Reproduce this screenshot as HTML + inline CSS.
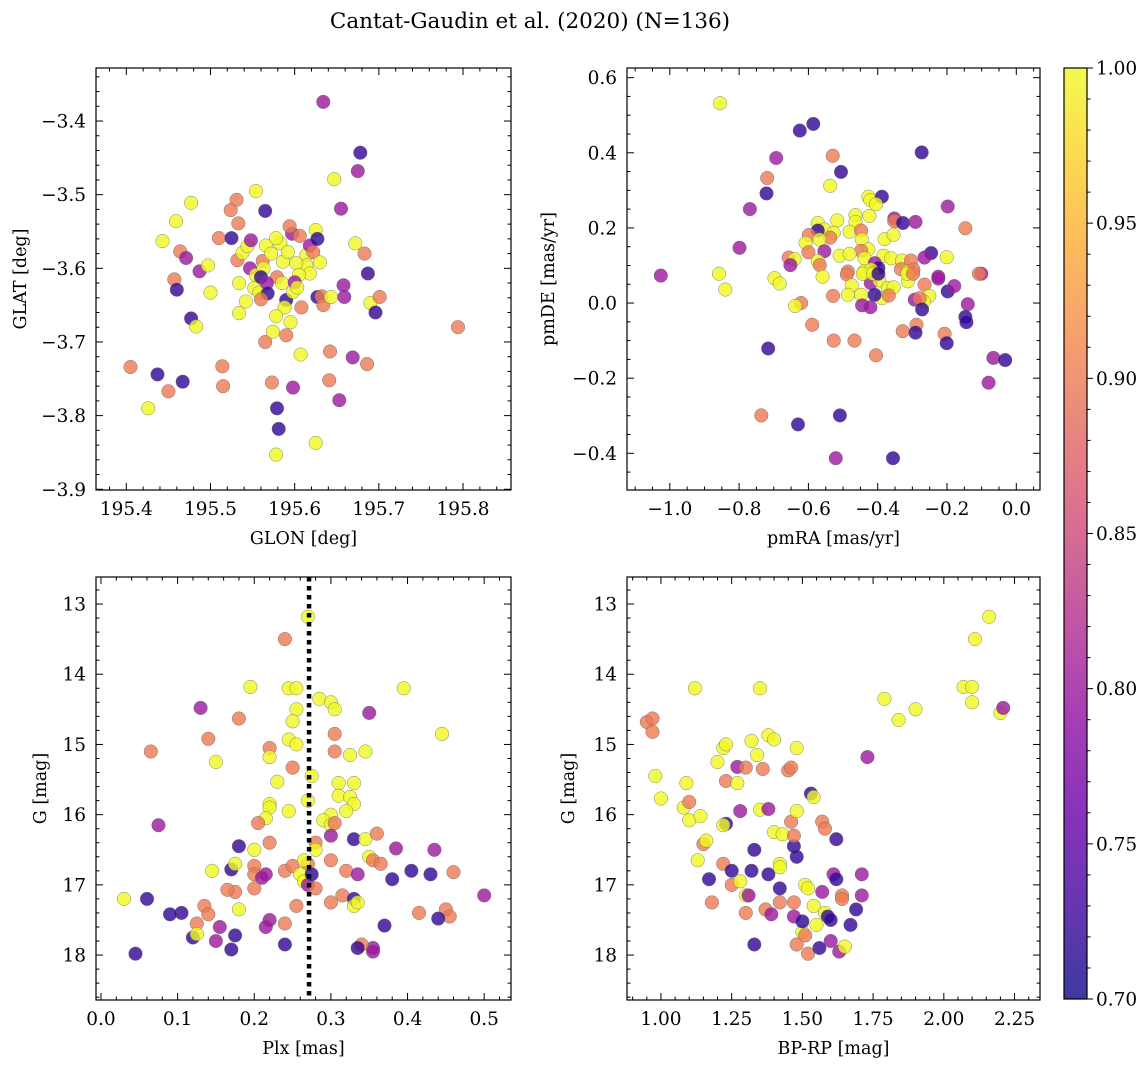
<!DOCTYPE html>
<html><head><meta charset="utf-8">
<style>
body{margin:0;background:#fff;}
svg{display:block;font-family:"DejaVu Serif","Liberation Serif",serif;}
</style></head>
<body>
<svg id="fig" width="1148" height="1067" viewBox="0 0 1148 1067" xmlns="http://www.w3.org/2000/svg">
<rect width="1148" height="1067" fill="#fff"/>
<text x="530" y="28" font-size="21.5" text-anchor="middle">Cantat-Gaudin et al. (2020) (N=136)</text>
</svg>
<script>
const probLevels = {Y:1.0, O:0.9, M:0.8, D:0.72};
const p1Glon = [195.634,195.678,195.675,195.647,195.554,195.477,195.531,195.459,195.565,195.655,195.524,195.443,195.51,195.533,195.464,195.471,195.457,195.46,195.487,195.477,195.497,195.5,195.483,195.467,195.437,195.405,195.45,195.426,195.514,195.515,195.525,195.532,195.538,195.544,195.562,195.565,195.573,195.579,195.581,195.578,195.598,195.59,195.607,195.625,195.627,195.632,195.634,195.643,195.642,195.653,195.641,195.659,195.658,195.672,195.669,195.683,195.687,195.69,195.696,195.701,195.686,195.794,195.547,195.554,195.552,195.558,195.534,195.542,195.534,195.563,195.56,195.579,195.567,195.568,195.585,195.586,195.583,195.592,195.597,195.594,195.606,195.614,195.614,195.618,195.618,195.625,195.627,195.602,195.605,195.59,195.598,195.588,195.578,195.574,195.56,195.566,195.572,195.578,195.548,195.6,195.622,195.63,195.595,195.608,195.603];
const p1Glat = [-3.374,-3.443,-3.468,-3.479,-3.495,-3.511,-3.507,-3.536,-3.522,-3.519,-3.521,-3.563,-3.559,-3.539,-3.577,-3.586,-3.615,-3.629,-3.604,-3.668,-3.596,-3.633,-3.679,-3.754,-3.744,-3.734,-3.767,-3.79,-3.733,-3.76,-3.559,-3.589,-3.579,-3.57,-3.59,-3.7,-3.755,-3.79,-3.818,-3.853,-3.762,-3.691,-3.717,-3.837,-3.639,-3.638,-3.65,-3.639,-3.713,-3.779,-3.752,-3.639,-3.623,-3.566,-3.721,-3.58,-3.607,-3.647,-3.66,-3.639,-3.73,-3.68,-3.6,-3.609,-3.627,-3.633,-3.661,-3.645,-3.62,-3.6,-3.612,-3.612,-3.62,-3.634,-3.62,-3.591,-3.566,-3.578,-3.553,-3.543,-3.556,-3.582,-3.596,-3.607,-3.569,-3.548,-3.56,-3.593,-3.609,-3.643,-3.632,-3.653,-3.665,-3.686,-3.642,-3.569,-3.58,-3.559,-3.562,-3.619,-3.578,-3.592,-3.673,-3.653,-3.626];
const p1Prob = "MDMYYYOYDMOYOOOMODMDYYYDDOOYOODOYYOOODDYMOYYDOOYOMOMMYMODYDOOOMYYYYYYYDOMDYYYYMOOYYYMYDYYDYYYYOYYYMMOYYOYY";
const p2PmRA = [-0.855,-0.625,-0.586,-0.530,-0.273,-0.693,-0.719,-0.506,-0.721,-0.537,-0.769,-0.198,-0.147,-0.799,-1.026,-0.858,-0.427,-0.421,-0.388,-0.405,-0.424,-0.464,-0.464,-0.352,-0.352,-0.327,-0.291,-0.517,-0.573,-0.554,-0.527,-0.573,-0.481,-0.448,-0.446,-0.599,-0.537,-0.568,-0.608,-0.380,-0.354,-0.600,-0.554,-0.427,-0.448,-0.510,-0.481,-0.438,-0.384,-0.361,-0.246,-0.265,-0.201,-0.657,-0.640,-0.652,-0.573,-0.567,-0.408,-0.398,-0.330,-0.304,-0.333,-0.313,-0.297,-0.486,-0.440,-0.419,-0.225,-0.101,-0.108,-0.698,-0.559,-0.840,-0.683,-0.489,-0.420,-0.395,-0.371,-0.354,-0.387,-0.409,-0.368,-0.475,-0.486,-0.448,-0.529,-0.445,-0.421,-0.313,-0.265,-0.251,-0.267,-0.293,-0.279,-0.272,-0.225,-0.198,-0.179,-0.140,-0.147,-0.144,-0.621,-0.638,-0.589,-0.527,-0.467,-0.405,-0.328,-0.288,-0.291,-0.207,-0.201,-0.066,-0.032,-0.080,-0.716,-0.736,-0.630,-0.509,-0.521,-0.356,-0.443,-0.414,-0.398,-0.315,-0.298];
const p2PmDE = [0.532,0.459,0.477,0.392,0.401,0.386,0.333,0.349,0.292,0.312,0.250,0.257,0.199,0.147,0.073,0.078,0.283,0.274,0.283,0.263,0.232,0.234,0.216,0.225,0.218,0.213,0.216,0.220,0.213,0.196,0.187,0.193,0.190,0.193,0.169,0.181,0.174,0.169,0.160,0.170,0.182,0.135,0.138,0.143,0.139,0.126,0.131,0.119,0.126,0.119,0.133,0.121,0.122,0.121,0.117,0.101,0.112,0.101,0.106,0.093,0.113,0.113,0.090,0.084,0.089,0.084,0.084,0.089,0.070,0.078,0.078,0.066,0.070,0.036,0.052,0.076,0.053,0.060,0.040,0.042,0.013,0.022,0.020,0.047,0.022,0.022,0.019,-0.006,-0.011,0.058,0.049,0.019,0.004,0.009,0.013,-0.017,0.065,0.031,0.045,-0.003,-0.037,-0.051,0.000,-0.008,-0.058,-0.100,-0.100,-0.139,-0.075,-0.058,-0.079,-0.082,-0.107,-0.146,-0.152,-0.212,-0.121,-0.299,-0.323,-0.299,-0.413,-0.413,0.078,0.078,0.078,0.078,0.078];
const p2Prob = "YDDODMODDYMMOMMYYYDYYYYMODMYYYYDYOYOOYYYYOMYOYYYYYDMYOYMYOMDYOOYOOYYMMOYYYYOMYYYYDOYYYOMMYOYYMODMDMMDDOYOOOOOODODMDMDODDMDYYDYO";
const p3Plx = [0.27,0.24,0.13,0.14,0.15,0.065,0.075,0.18,0.195,0.245,0.255,0.255,0.25,0.245,0.255,0.22,0.22,0.23,0.25,0.285,0.3,0.305,0.305,0.305,0.35,0.395,0.445,0.345,0.325,0.31,0.33,0.31,0.325,0.33,0.32,0.3,0.29,0.3,0.305,0.28,0.28,0.27,0.275,0.245,0.22,0.22,0.215,0.205,0.22,0.2,0.18,0.145,0.17,0.175,0.2,0.215,0.2,0.21,0.24,0.25,0.27,0.265,0.26,0.265,0.3,0.3,0.33,0.345,0.36,0.35,0.355,0.365,0.385,0.38,0.405,0.43,0.435,0.46,0.5,0.45,0.455,0.44,0.415,0.37,0.355,0.355,0.34,0.335,0.3,0.315,0.33,0.33,0.335,0.32,0.335,0.27,0.28,0.275,0.255,0.24,0.24,0.22,0.215,0.2,0.175,0.165,0.155,0.18,0.135,0.14,0.125,0.12,0.125,0.105,0.09,0.06,0.03,0.045,0.17,0.175,0.15];
const p3G = [13.18,13.5,14.48,14.92,15.25,15.1,16.15,14.63,14.18,14.2,14.2,14.5,14.67,14.93,15.0,15.05,15.18,15.53,15.33,14.35,14.4,14.5,14.85,15.1,14.55,14.2,14.85,15.1,15.15,15.55,15.55,15.73,15.75,15.85,15.95,16.0,16.08,16.15,16.12,16.4,16.5,15.8,15.45,15.95,15.85,15.9,16.05,16.12,16.4,16.5,16.45,16.8,16.78,16.7,16.73,16.85,16.85,16.9,16.8,16.73,16.7,16.65,16.85,16.95,16.65,16.3,16.35,16.35,16.27,16.6,16.65,16.7,16.48,16.92,16.8,16.85,16.5,16.82,17.15,17.35,17.45,17.48,17.4,17.58,17.9,17.95,17.85,17.9,17.25,17.15,17.2,17.3,17.25,16.8,16.85,17.0,17.05,16.85,17.3,17.55,17.85,17.5,17.6,17.05,17.1,17.07,17.6,17.35,17.3,17.42,17.55,17.75,17.7,17.4,17.42,17.2,17.2,17.98,17.92,17.72,17.8];
const p3Prob = "YOMOYOMOYYYYYYYOYYOYYYOOMYYYYYYYYYYYYYOOYYYYYYYOOYDYDYOMOMOOOYYYOMDYOYOOMDDDMOMOODODMMODOODYYOMMODOODMMOOOMYOOODYDDDYDDDM";
const p4BpRp = [0.95,0.97,0.97,0.98,1.0,1.08,1.09,1.1,1.1,1.12,1.13,1.14,1.15,1.16,1.17,1.18,1.2,1.22,1.23,1.23,1.23,1.22,1.22,1.25,1.25,1.27,1.27,1.28,1.28,1.3,1.3,1.31,1.32,1.3,1.32,1.33,1.33,1.34,1.35,1.35,1.36,1.37,1.38,1.38,1.38,1.39,1.4,1.4,1.42,1.43,1.42,1.42,1.42,1.45,1.46,1.46,1.47,1.47,1.48,1.48,1.47,1.48,1.47,1.48,1.5,1.5,1.51,1.51,1.52,1.52,1.53,1.54,1.54,1.55,1.56,1.57,1.57,1.58,1.58,1.59,1.6,1.6,1.61,1.62,1.62,1.63,1.64,1.64,1.65,1.67,1.69,1.71,1.71,1.73,1.79,1.84,1.9,2.07,2.1,2.1,2.11,2.16,2.2,2.21];
const p4G = [14.68,14.63,14.82,15.45,15.77,15.9,15.55,15.82,16.08,14.2,16.65,16.02,16.42,16.37,16.92,17.25,15.25,15.05,15.52,15.0,16.13,16.15,16.7,16.8,17.0,15.32,15.55,16.95,15.95,17.15,17.4,17.15,14.95,15.33,16.8,16.5,17.85,15.15,14.2,15.93,15.35,17.35,14.87,15.92,16.85,17.42,14.93,16.25,16.7,16.28,16.75,17.05,17.25,15.37,15.33,16.1,16.45,16.3,15.05,15.95,17.25,16.6,17.45,17.85,17.67,17.52,17.0,17.72,17.05,17.98,15.7,15.75,17.3,17.57,17.9,17.1,16.1,16.2,17.4,17.45,17.5,17.8,16.85,16.35,16.92,17.95,17.15,17.2,17.88,17.57,17.35,16.85,17.15,15.18,14.35,14.65,14.5,14.18,14.18,14.4,13.5,13.18,14.55,14.48];
const p4Prob = "OOOYYYYOYYYYOYDOYYOYDYODOMYYMYOMYODDDYYYOOYMDMYYYYYDOOOODOYYODMOYDYOYODYYYDMOOYDDMMDDMOOYDDMMMYYYYYYYYYMM";
const cbTicks = [0.70,0.75,0.80,0.85,0.90,0.95,1.00];
const plasmaStops = ["#0d0887","#41049d","#6a00a8","#8f0da4","#b12a90","#cc4778","#e16462","#f2844b","#fca636","#fcce25","#f0f921"];

const NS="http://www.w3.org/2000/svg";
const svg=document.getElementById('fig');
function el(tag,attrs,parent){const e=document.createElementNS(NS,tag);for(const k in attrs)e.setAttribute(k,attrs[k]);(parent||svg).appendChild(e);return e;}
function hex(h){return [1,3,5].map(i=>parseInt(h.substr(i,2),16));}
function plasma(t){t=Math.max(0,Math.min(1,t));const n=plasmaStops.length-1;const i=Math.min(n-1,Math.floor(t*n));const f=t*n-i;const a=hex(plasmaStops[i]),b=hex(plasmaStops[i+1]);return 'rgb('+a.map((v,k)=>Math.round(v+(b[k]-v)*f)).join(',')+')';}
function cmap(v){return plasma((v-0.7)/0.3);}
function fmt(v,d){const s=Math.abs(v).toFixed(d);return (v<-1e-9?'\u2212':'')+s;}

function panel(cfg){
  const g=el('g',{});
  
  
  const L=cfg.box[0],T=cfg.box[1],R=cfg.box[2],B=cfg.box[3];
  const sx=v=>L+(v-cfg.xr[0])/(cfg.xr[1]-cfg.xr[0])*(R-L);
  const sy=v=>B-(v-cfg.yr[0])/(cfg.yr[1]-cfg.yr[0])*(B-T);
  const pg=el('g',{},g);
  
  
  for(let i=0;i<cfg.xs.length;i++){
    const p=probLevels[cfg.pr[i]]||0.9;
    const c=el('circle',{cx:sx(cfg.xs[i]).toFixed(1),cy:sy(cfg.ys[i]).toFixed(1),r:6.8,fill:cmap(p),'fill-opacity':0.8,stroke:'#666','stroke-width':0.5,'stroke-opacity':0.8},pg);
    
    
  }
  if(cfg.extra)cfg.extra(g,sx,sy);
  const fr=el('rect',{x:L,y:T,width:R-L,height:B-T,fill:'none',stroke:'#000','stroke-width':1.2},g);
  
  
  const tk=el('g',{stroke:'#000','stroke-width':1},g);
  
  
  const lo=Math.min(...cfg.xr),hi=Math.max(...cfg.xr);
  for(let k=Math.ceil(lo/cfg.xmin-1e-6);k*cfg.xmin<=hi+1e-9;k++){
    const v=k*cfg.xmin;const major=Math.abs(v/cfg.xmaj-Math.round(v/cfg.xmaj))<1e-6;const len=major?7:3.5;const x=sx(v);
    el('line',{x1:x,x2:x,y1:B,y2:B-len},tk);el('line',{x1:x,x2:x,y1:T,y2:T+len},tk);
    if(major){const t=el('text',{x:x,y:B+25,'font-size':18.5,'text-anchor':'middle',stroke:'none'},g);t.textContent=fmt(v,cfg.xd);
      
      }
  }
  const ylo=Math.min(...cfg.yr),yhi=Math.max(...cfg.yr);
  for(let k=Math.ceil(ylo/cfg.ymin-1e-6);k*cfg.ymin<=yhi+1e-9;k++){
    const v=k*cfg.ymin;const major=Math.abs(v/cfg.ymaj-Math.round(v/cfg.ymaj))<1e-6;const len=major?7:3.5;const y=sy(v);
    el('line',{x1:L,x2:L+len,y1:y,y2:y},tk);el('line',{x1:R,x2:R-len,y1:y,y2:y},tk);
    if(major){const t=el('text',{x:L-10,y:y+6.5,'font-size':18.5,'text-anchor':'end',stroke:'none'},g);t.textContent=fmt(v,cfg.yd);
      
      }
  }
  const xl=el('text',{x:(L+R)/2,y:B+54,'font-size':17.5,'text-anchor':'middle'},g);xl.textContent=cfg.xlab;
  
  
  const yx=L-cfg.ylabOff;
  const yl=el('text',{x:yx,y:(T+B)/2,'font-size':17.5,'text-anchor':'middle',transform:'rotate(-90 '+yx+' '+(T+B)/2+')'},g);yl.textContent=cfg.ylab;
  
  
}

panel({name:'glon-glat-panel',box:[96,68,511,490],xr:[195.364,195.857],yr:[-3.901,-3.328],xs:p1Glon,ys:p1Glat,pr:p1Prob,xmaj:0.1,xmin:0.02,ymaj:0.1,ymin:0.02,xd:1,yd:1,xlab:'GLON [deg]',ylab:'GLAT [deg]',ylabOff:70});
panel({name:'propermotion-panel',box:[627,68,1040,490],xr:[-1.1236,0.0684],yr:[-0.4977,0.6257],xs:p2PmRA,ys:p2PmDE,pr:p2Prob,xmaj:0.2,xmin:0.05,ymaj:0.2,ymin:0.05,xd:1,yd:1,xlab:'pmRA [mas/yr]',ylab:'pmDE [mas/yr]',ylabOff:73});
panel({name:'parallax-mag-panel',box:[96,577,511,1000],xr:[-0.0065,0.535],yr:[18.64,12.615],xs:p3Plx,ys:p3G,pr:p3Prob,xmaj:0.1,xmin:0.02,ymaj:1,ymin:0.2,xd:1,yd:0,xlab:'Plx [mas]',ylab:'G [mag]',ylabOff:50,
  extra:(g,sx,sy)=>{const l=el('line',{x1:sx(0.2715),x2:sx(0.2715),y1:577,y2:1000,stroke:'#000','stroke-width':4.5,'stroke-dasharray':'4.5 4.5'},g);
    
    }});
panel({name:'cmd-panel',box:[627,577,1040,1000],xr:[0.88,2.34],yr:[18.64,12.615],xs:p4BpRp,ys:p4G,pr:p4Prob,xmaj:0.25,xmin:0.05,ymaj:1,ymin:0.2,xd:2,yd:0,xlab:'BP-RP [mag]',ylab:'G [mag]',ylabOff:53});

(function(){
  const L=1064,R=1087,T=68,B=999;
  const cb=el('g',{});
  
  
  const defs=el('defs',{},cb);
  const gr=el('linearGradient',{id:'pl',x1:0,y1:1,x2:0,y2:0},defs);
  plasmaStops.forEach((c,i)=>el('stop',{offset:i/(plasmaStops.length-1),'stop-color':c},gr));
  el('rect',{x:L,y:T,width:R-L,height:B-T,fill:'url(#pl)','fill-opacity':0.8},cb);
  el('rect',{x:L,y:T,width:R-L,height:B-T,fill:'none',stroke:'#000','stroke-width':1.2},cb);
  const sy=v=>B-(v-0.7)/0.3*(B-T);
  for(let k=70;k<=100;k++){const v=k/100;const y=sy(v);const major=k%5===0;el('line',{x1:R,x2:R+(major?6:3.5),y1:y,y2:y,stroke:'#000'},cb);}
  cbTicks.forEach(v=>{const t=el('text',{x:R+9,y:sy(v)+6.5,'font-size':18.5},cb);t.textContent=v.toFixed(2);
    
    });
})();
</script>
</body></html>
